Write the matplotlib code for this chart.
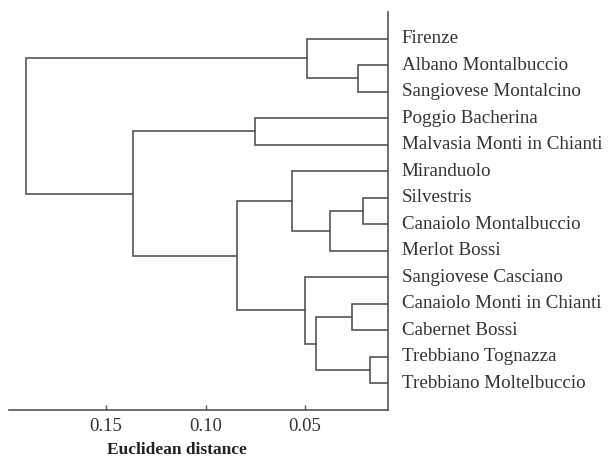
import matplotlib
matplotlib.use("Agg")
import matplotlib.pyplot as plt

# leaves, top to bottom
leaves = [
    "Firenze",
    "Albano Montalbuccio",
    "Sangiovese Montalcino",
    "Poggio Bacherina",
    "Malvasia Monti in Chianti",
    "Miranduolo",
    "Silvestris",
    "Canaiolo Montalbuccio",
    "Merlot Bossi",
    "Sangiovese Casciano",
    "Canaiolo Monti in Chianti",
    "Cabernet Bossi",
    "Trebbiano Tognazza",
    "Trebbiano Moltelbuccio",
]

# linkage-style merges: (node a, node b, distance); new nodes numbered from len(leaves)
merge_a = [1, 0, 3, 6, 17, 5, 12, 10, 21, 9, 19, 16, 15]
merge_b = [2, 14, 4, 7, 8, 18, 13, 11, 20, 22, 23, 24, 25]
merge_h = [0.0235, 0.0488, 0.0750, 0.0207, 0.0374, 0.0567, 0.0172,
           0.0265, 0.0446, 0.0500, 0.0843, 0.1364, 0.1903]

tick_vals = [0.15, 0.10, 0.05]
tick_labels = ["0.15", "0.10", "0.05"]

LEAF_BASE = 0.0085   # where leaf branches start (right-hand line)
X_LEFT = 0.1987
SERIF = ["Liberation Serif", "DejaVu Serif"]
LINE = "#555555"

fig = plt.figure(figsize=(6.09, 4.57), dpi=100)
ax = fig.add_axes([9 / 609, 47 / 457, 378.7 / 609, 398 / 457])

ypos = {i: float(i) for i in range(len(leaves))}
xpos = {i: LEAF_BASE for i in range(len(leaves))}
for k, (a, b, h) in enumerate(zip(merge_a, merge_b, merge_h)):
    node = len(leaves) + k
    ax.plot([xpos[a], h, h, xpos[b]], [ypos[a], ypos[a], ypos[b], ypos[b]],
            color=LINE, lw=1.2, solid_joinstyle="miter")
    ypos[node] = (ypos[a] + ypos[b]) / 2
    xpos[node] = h

ax.set_xlim(X_LEFT, LEAF_BASE)
ax.set_ylim(len(leaves), -1)

for s in ("left", "top"):
    ax.spines[s].set_visible(False)
for s in ("right", "bottom"):
    ax.spines[s].set_color(LINE)
    ax.spines[s].set_linewidth(1.2)

ax.set_yticks([])
ax.set_xticks(tick_vals)
ax.set_xticklabels(tick_labels, fontfamily=SERIF, fontsize=13.5, color="#333333")
ax.tick_params(axis="x", direction="in", length=3.6, width=1.0, color=LINE, pad=6)

for i, name in enumerate(leaves):
    ax.annotate(name, xy=(1, i), xycoords=("axes fraction", "data"),
                xytext=(10, 0), textcoords="offset points",
                va="center", ha="left", fontfamily=SERIF, fontsize=13.7,
                color="#333333")

ax.set_xlabel("Euclidean distance", fontfamily=SERIF, fontsize=12.5,
              fontweight="bold", color="#222222", va="center")
ax.xaxis.set_label_coords(0.4436, -0.1005)

fig.savefig("out.png", dpi=100)
